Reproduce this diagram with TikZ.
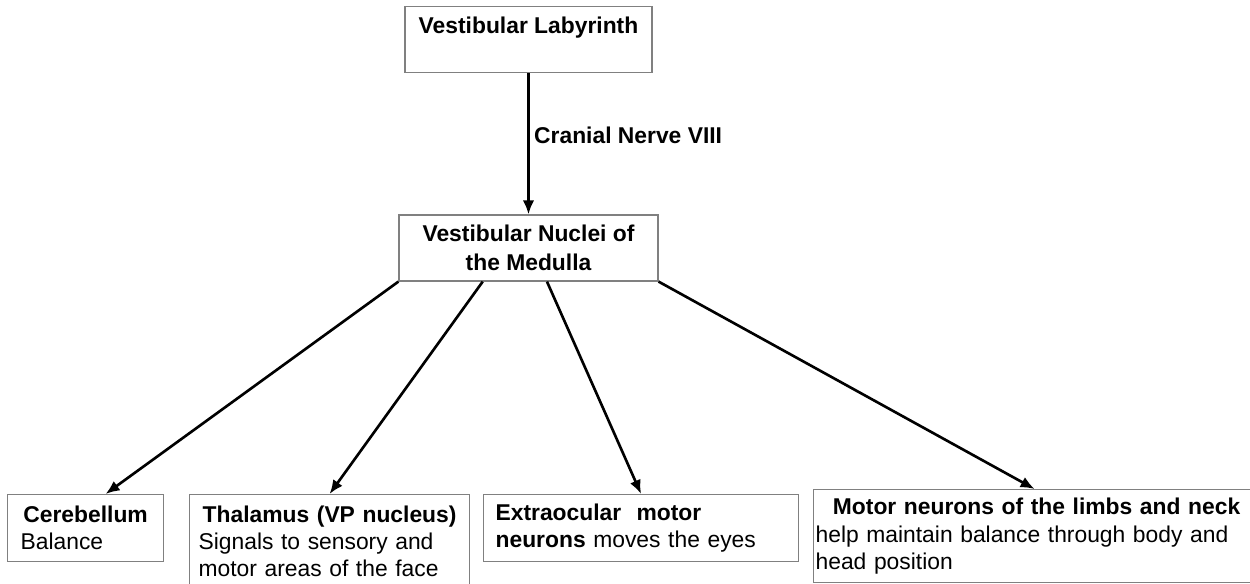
\documentclass[tikz,border=0pt]{standalone}
\usepackage{fontspec}
\setmainfont{Liberation Sans}
\usetikzlibrary{arrows.meta,calc}
\setlength{\parindent}{0pt}

\begin{document}
\begin{tikzpicture}[
  x=0.02cm, y=-0.02cm,
  box/.style={draw=black!50, line width=0.7pt, font=\fontsize{13}{15.5}\selectfont, inner sep=0pt},
  head/.style={font=\fontsize{13}{16.4}\selectfont\bfseries},
  arrow/.style={-{Latex[length=2.8mm, width=2.3mm]}, line width=1.5pt}
]
\useasboundingbox (0,0) rectangle (1250,584);
\node[box, head, anchor=north, minimum width=4.94cm, text height=0.54cm, text depth=0.78cm] (lab) at (528.5,6) {Vestibular Labyrinth};
\node[box, head, align=center, minimum width=5.18cm, minimum height=1.32cm] (nuc) at (528.5,248) {Vestibular Nuclei of\\the Medulla};
\node[box, anchor=north west, text width=2.6cm, inner xsep=0.26cm, minimum height=1.34cm, align=left] (cer) at (7,494) {{\centering\bfseries Cerebellum\par}Balance};
\node[box, anchor=north west, text width=5.24cm, inner xsep=0.18cm, inner ysep=0.22cm, align=left] (tha) at (189,494) {{\centering\bfseries Thalamus (VP nucleus)\par}Signals to sensory and\\motor areas of the face};
\node[box, anchor=north west, text width=5.82cm, inner xsep=0.24cm, minimum height=1.34cm, align=left] (ext) at (483,494) {\textbf{Extraocular\ \ motor}\\\textbf{neurons} moves the eyes};
\node[box, anchor=north west, text width=8.84cm, inner xsep=0.04cm, minimum height=1.86cm, align=left] (mot) at (813,489) {{\centering\bfseries Motor neurons of the limbs and neck\par}help maintain balance through body and\\head position};
\draw[arrow] (lab.south) -- (nuc.north) node[head, pos=0.44, anchor=west, inner xsep=2.5pt] (cn) {Cranial Nerve VIII};
\draw[arrow] (nuc.south west) -- ([xshift=0.4cm]cer.north);
\draw[arrow] ($(nuc.south west)!0.324!(nuc.south east)$) -- (tha.north);
\draw[arrow] ($(nuc.south west)!0.571!(nuc.south east)$) -- (ext.north);
\draw[arrow] (nuc.south east) -- ([xshift=-0.04cm]mot.north);
\end{tikzpicture}
\end{document}
